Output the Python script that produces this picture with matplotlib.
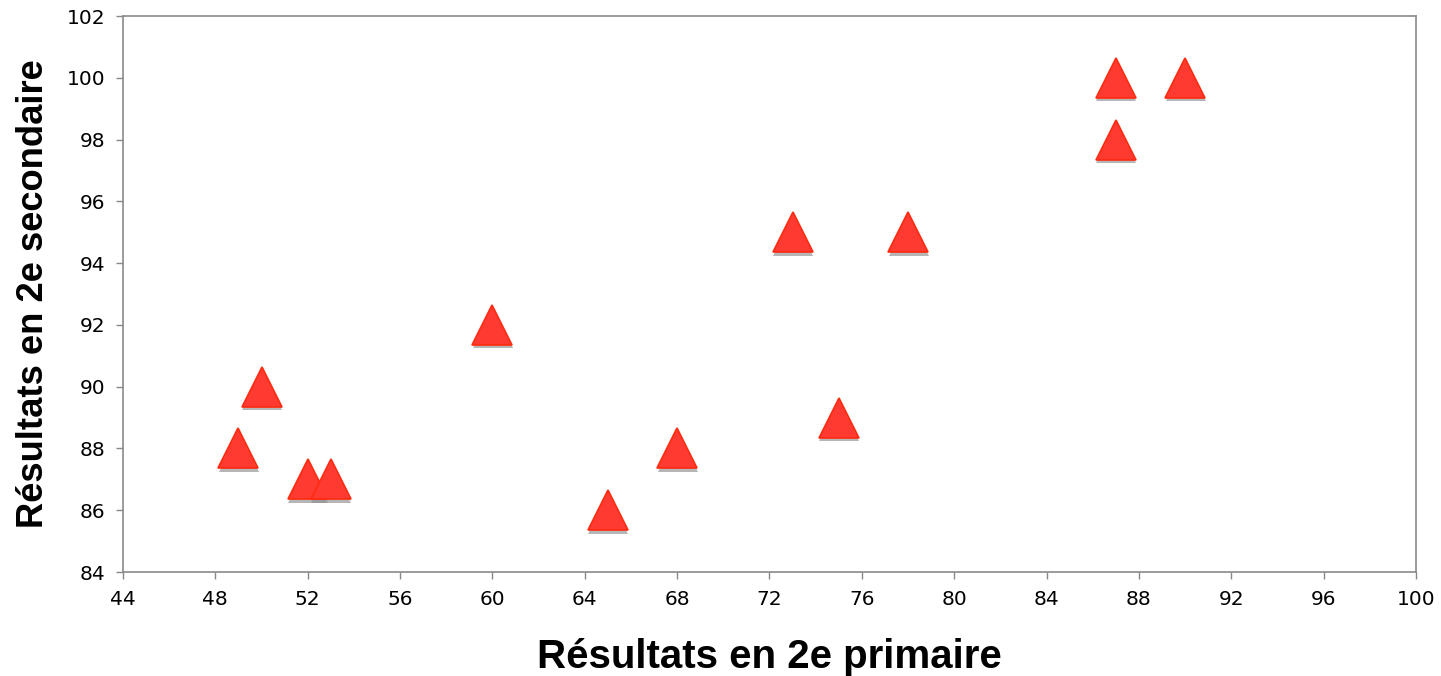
import matplotlib
matplotlib.use("Agg")
import matplotlib.pyplot as plt
import matplotlib.transforms as mtransforms

# Scores: 2nd grade primary vs 2nd grade secondary
primaire = [49, 50, 52, 53, 60, 65, 68, 73, 75, 78, 87, 87, 90]
secondaire = [88, 90, 87, 87, 92, 86, 88, 95, 89, 95, 100, 98, 100]

x_ticks = list(range(44, 101, 4))
y_ticks = list(range(84, 103, 2))

fig = plt.figure(figsize=(14.41, 6.76), dpi=100)
ax = fig.add_axes([123 / 1441, 1 - 572 / 676, (1416 - 123) / 1441, (572 - 16) / 676])

# soft drop shadow under each triangle
shadow_tr = ax.transData + mtransforms.ScaledTranslation(0.5 / 100, -3.5 / 100, fig.dpi_scale_trans)
ax.plot(primaire, secondaire, linestyle="none", marker="^", markersize=28.5,
        color="#8f8f8f", alpha=0.65, markeredgewidth=0, transform=shadow_tr, zorder=2)
ax.plot(primaire, secondaire, linestyle="none", marker="^", markersize=28.5,
        markerfacecolor="#ff3a30", markeredgecolor="#ff2a10", markeredgewidth=1.2, zorder=3)

ax.set_xlim(44, 100)
ax.set_ylim(84, 102)
ax.set_xticks(x_ticks)
ax.set_yticks(y_ticks)
ax.tick_params(axis="both", direction="out", length=5, width=1, color="#888888",
               labelsize=14.5, pad=8)

for side in ["left", "bottom", "top", "right"]:
    ax.spines[side].set_color("#8a8a8a")
    ax.spines[side].set_linewidth(1.2)

fam = ["Liberation Sans", "DejaVu Sans"]
ax.set_xlabel("Résultats en 2e primaire", family=fam, weight="bold", size=29, labelpad=21)
ax.set_ylabel("Résultats en 2e secondaire", family=fam, weight="bold", size=26.2, labelpad=11)

fig.savefig("out.png", dpi=100)
